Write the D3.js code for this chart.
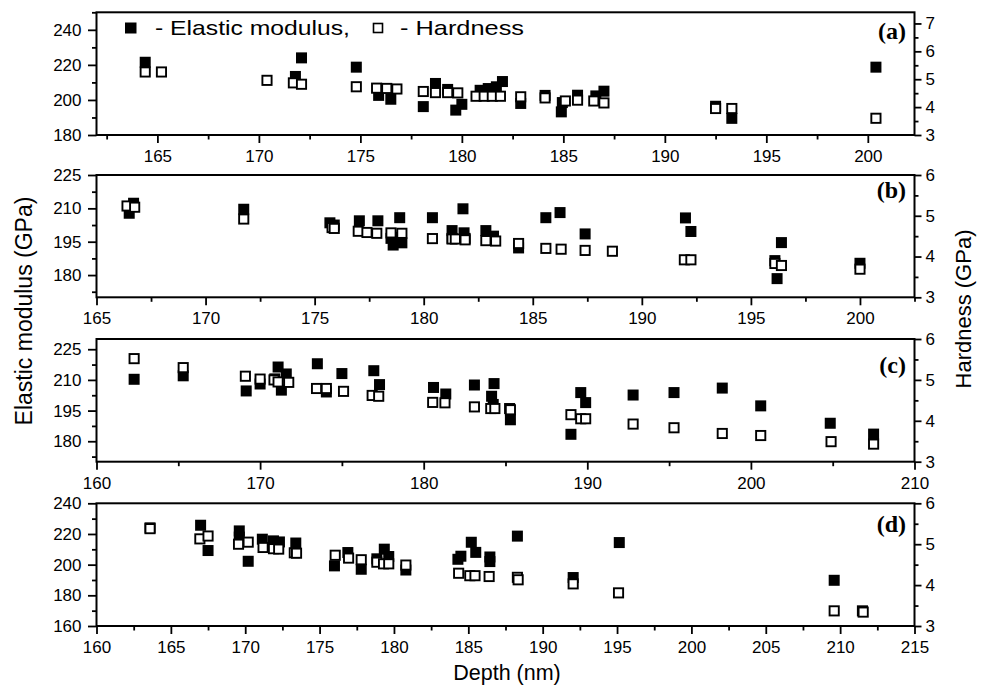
<!DOCTYPE html>
<html><head><meta charset="utf-8">
<script src="https://cdn.jsdelivr.net/npm/d3@7"></script>
<style>body{margin:0;background:#fff} svg{display:block}</style>
</head><body><svg id="c" width="984" height="687"></svg>
<script>
// ---------------- DATA ----------------
// Panel (a)
const aDepthE = [164.4,171.8,172.1,174.8,175.9,176.5,178.1,178.7,179.3,179.7,180.0,180.9,181.3,181.7,182.0,182.9,184.1,184.9,184.95,185.7,186.6,187.0,192.5,193.3,200.4];
const aE      = [221.5,213.4,224.0,218.7,202.6,200.4,196.2,209.4,206.0,194.2,197.5,205.5,206.5,207.5,210.5,198.0,202.6,193.2,198.5,202.7,202.3,205.0,196.4,189.5,218.7];
const aDepthH = [164.4,165.2,170.4,171.7,172.1,174.8,175.8,176.3,176.8,178.1,178.7,179.3,179.8,180.7,181.1,181.5,181.9,182.9,184.1,185.1,185.7,186.5,187.0,192.5,193.3,200.4];
const aH      = [5.26,5.26,4.96,4.87,4.82,4.73,4.68,4.67,4.65,4.56,4.52,4.52,4.51,4.39,4.39,4.39,4.39,4.37,4.33,4.22,4.25,4.22,4.15,3.95,3.95,3.60];
// Panel (b)
const bDepthE = [166.5,166.7,171.75,175.7,175.9,177.05,177.9,178.5,178.6,178.9,178.95,179.0,180.4,181.3,181.3,181.8,181.85,181.9,182.85,183.2,184.35,185.6,186.25,187.4,192.0,192.25,196.1,196.2,196.4,200.0];
const bE      = [207.8,212.3,209.6,203.5,202.5,204.4,204.4,196.5,193.5,205.8,197.0,194.5,205.8,200.0,196.5,209.8,199.0,196.5,200.0,197.5,192.2,205.8,208.1,198.5,205.7,199.6,186.5,178.4,194.6,185.3];
const bDepthH = [166.4,166.75,171.75,175.8,175.9,177.0,177.4,177.85,178.5,179.0,180.4,181.3,181.45,181.9,182.85,183.3,184.35,185.6,186.3,187.4,188.65,191.95,192.25,196.1,196.4,200.0];
const bH      = [5.24,5.21,4.92,4.71,4.69,4.62,4.59,4.57,4.58,4.57,4.44,4.43,4.43,4.41,4.39,4.38,4.32,4.20,4.18,4.15,4.13,3.92,3.92,3.83,3.78,3.69];
// Panel (c)
const cDepthE = [162.3,165.3,169.15,170.0,170.9,171.1,171.6,171.3,173.5,174.05,175.0,176.95,177.3,180.6,181.35,183.1,184.3,184.15,184.25,185.25,185.3,189.0,189.6,189.9,192.8,195.3,198.25,200.6,204.85,207.5];
const cE      = [210.3,212.0,204.6,208.0,210.5,216.3,212.9,205.0,217.9,204.1,213.1,214.5,207.7,206.3,203.1,207.5,208.2,202.0,198.0,196.0,190.5,183.4,203.8,198.9,202.6,203.8,206.0,197.3,188.8,183.5];
const cDepthH = [162.3,165.3,169.1,170.0,170.85,171.1,171.75,173.45,174.05,175.1,176.85,177.25,180.55,181.3,183.1,184.1,184.35,185.3,189.0,189.6,189.9,192.8,195.3,198.25,200.6,204.9,207.5];
const cH      = [5.52,5.30,5.09,5.02,5.00,4.95,4.94,4.79,4.79,4.72,4.62,4.60,4.45,4.44,4.34,4.30,4.30,4.27,4.15,4.05,4.05,3.92,3.83,3.69,3.64,3.49,3.43];
// Panel (d)
const dDepthE = [163.6,167.0,167.5,169.6,169.6,170.2,171.15,171.9,172.3,173.4,176.0,176.9,177.8,178.85,179.35,179.65,180.8,184.3,184.5,185.2,185.5,186.45,186.45,188.3,192.05,195.15,209.6];
const dE      = [224.0,225.7,209.2,222.0,218.0,202.2,216.6,215.5,214.8,214.1,199.2,207.9,197.0,203.8,210.1,205.3,196.5,203.5,205.5,214.6,208.0,205.0,202.0,218.6,191.6,214.4,189.8];
const dDepthH = [163.6,166.95,167.5,169.55,170.2,171.2,171.9,172.25,173.3,173.45,176.05,176.95,177.8,178.85,179.3,179.65,180.8,184.35,185.1,185.45,186.4,188.3,188.35,192.05,195.1,209.6,211.5,211.55];
const dH      = [5.38,5.13,5.20,5.00,5.05,4.92,4.89,4.88,4.79,4.78,4.73,4.66,4.62,4.56,4.52,4.52,4.49,4.29,4.23,4.23,4.21,4.19,4.13,4.03,3.81,3.37,3.37,3.34];

// Tick labels
const aXTicks = [165,170,175,180,185,190,195,200];
const bXTicks = [165,170,175,180,185,190,195,200];
const cXTicks = [160,170,180,190,200,210];
const dXTicks = [160,165,170,175,180,185,190,195,200,205,210,215];
const aETicks = [180,200,220,240];
const bETicks = [180,195,210,225];
const cETicks = [180,195,210,225];
const dETicks = [160,180,200,220,240];
const aHTicks = [3,4,5,6,7];
const bHTicks = [3,4,5,6];
const cHTicks = [3,4,5,6];
const dHTicks = [3,4,5,6];
const panelLabels = ["(a)","(b)","(c)","(d)"];
const legendLabels = ["- Elastic modulus,","- Hardness"];
const titleLeft = "Elastic modulus (GPa)";
const titleRight = "Hardness (GPa)";
const titleBottom = "Depth (nm)";

// ---------------- LAYOUT ----------------
const L = 96.5, R = 914.5;
const panels = [
  {dE:aDepthE,E:aE,dH:aDepthH,H:aH,xt:aXTicks,et:aETicks,ht:aHTicks,top:12.3,bottom:135,
   xd:[162,202.3],ed:[180,250],hd:[3,7.4],xm:2.5,em:10,hm:0.5,lab:panelLabels[0],labY:39},
  {dE:bDepthE,E:bE,dH:bDepthH,H:bH,xt:bXTicks,et:bETicks,ht:bHTicks,top:175,bottom:297.3,
   xd:[165,202.5],ed:[170,225],hd:[3,6],xm:2.5,em:7.5,hm:0.5,lab:panelLabels[1],labY:198},
  {dE:cDepthE,E:cE,dH:cDepthH,H:cH,xt:cXTicks,et:cETicks,ht:cHTicks,top:339,bottom:461.7,
   xd:[160,210],ed:[170,230],hd:[3,6],xm:5,em:7.5,hm:0.5,lab:panelLabels[2],labY:373},
  {dE:dDepthE,E:dE,dH:dDepthH,H:dH,xt:dXTicks,et:dETicks,ht:dHTicks,top:503.3,bottom:626,
   xd:[160,215],ed:[160,240],hd:[3,6],xm:2.5,em:10,hm:0.5,lab:panelLabels[3],labY:532}
];

const svg = d3.select("#c");
const FONT = "'Liberation Sans', Arial, Helvetica, sans-serif";

function minorVals(dom, step, majors){
  const out = [];
  const start = Math.ceil(dom[0]/step - 1e-9)*step;
  for (let v = start; v <= dom[1] + 1e-9; v += step){
    if (!majors.some(m => Math.abs(m - v) < 1e-6)) out.push(+v.toFixed(4));
  }
  return out;
}

function styleAxis(g, fs){
  g.select(".domain").remove();
  g.selectAll(".tick line").attr("stroke","#000").attr("stroke-width",1.8);
  g.selectAll(".tick text").attr("fill","#000").style("font-family",FONT).style("font-size",fs+"px");
}

panels.forEach(p => {
  const x = d3.scaleLinear().domain(p.xd).range([L,R]);
  const yE = d3.scaleLinear().domain(p.ed).range([p.bottom,p.top]);
  const yH = d3.scaleLinear().domain(p.hd).range([p.bottom,p.top]);
  const g = svg.append("g");

  // minor ticks
  g.append("g").attr("transform",`translate(0,${p.bottom})`)
    .call(d3.axisBottom(x).tickValues(minorVals(p.xd,p.xm,p.xt)).tickSize(4.5).tickFormat(""))
    .call(a=>styleAxis(a,17));
  g.append("g").attr("transform",`translate(${L},0)`)
    .call(d3.axisLeft(yE).tickValues(minorVals(p.ed,p.em,p.et)).tickSize(4.5).tickFormat(""))
    .call(a=>styleAxis(a,17));
  g.append("g").attr("transform",`translate(${R},0)`)
    .call(d3.axisRight(yH).tickValues(minorVals(p.hd,p.hm,p.ht)).tickSize(4).tickFormat(""))
    .call(a=>styleAxis(a,17));

  // major ticks
  g.append("g").attr("transform",`translate(0,${p.bottom})`)
    .call(d3.axisBottom(x).tickValues(p.xt).tickSize(8).tickPadding(7).tickFormat(d3.format("d")))
    .call(a=>styleAxis(a,17));
  g.append("g").attr("transform",`translate(${L},0)`)
    .call(d3.axisLeft(yE).tickValues(p.et).tickSize(8.5).tickPadding(6.5).tickFormat(d3.format("d")))
    .call(a=>styleAxis(a,17));
  g.append("g").attr("transform",`translate(${R},0)`)
    .call(d3.axisRight(yH).tickValues(p.ht).tickSize(7).tickPadding(4).tickFormat(d3.format("d")))
    .call(a=>styleAxis(a,17));

  // frame
  g.append("rect").attr("x",L).attr("y",p.top).attr("width",R-L).attr("height",p.bottom-p.top)
    .attr("fill","none").attr("stroke","#000").attr("stroke-width",2);

  // filled squares: Elastic modulus (left axis)
  const S = 11;
  g.append("g").selectAll("rect").data(d3.zip(p.dE,p.E)).join("rect")
    .attr("x",d=>x(d[0])-S/2).attr("y",d=>yE(d[1])-S/2).attr("width",S).attr("height",S)
    .attr("fill","#000");
  // open squares: Hardness (right axis)
  const So = 9.2;
  g.append("g").selectAll("rect").data(d3.zip(p.dH,p.H)).join("rect")
    .attr("x",d=>x(d[0])-So/2).attr("y",d=>yH(d[1])-So/2).attr("width",So).attr("height",So)
    .attr("fill","#fff").attr("stroke","#000").attr("stroke-width",1.9);

  // panel label
  g.append("text").attr("x",906).attr("y",p.labY).attr("text-anchor","end")
    .style("font-family","'Liberation Serif','Times New Roman',serif").style("font-weight","bold")
    .style("font-size","24px").text(p.lab);
});

// legend (panel a)
svg.append("rect").attr("x",125).attr("y",22.5).attr("width",11.5).attr("height",11).attr("fill","#000");
svg.append("text").attr("x",155).attr("y",35).style("font-family",FONT).style("font-size","21px")
  .attr("textLength",195).attr("lengthAdjust","spacingAndGlyphs").text(legendLabels[0]);
svg.append("rect").attr("x",373.5).attr("y",23.5).attr("width",9).attr("height",9)
  .attr("fill","#fff").attr("stroke","#000").attr("stroke-width",1.6);
svg.append("text").attr("x",400).attr("y",35).style("font-family",FONT).style("font-size","21px")
  .attr("textLength",124).attr("lengthAdjust","spacingAndGlyphs").text(legendLabels[1]);

// axis titles
svg.append("text").attr("transform","translate(32,311) rotate(-90)").attr("text-anchor","middle")
  .style("font-family",FONT).style("font-size","23px").text(titleLeft);
svg.append("text").attr("transform","translate(971,309) rotate(-90)").attr("text-anchor","middle")
  .style("font-family",FONT).style("font-size","22px").text(titleRight);
svg.append("text").attr("x",507).attr("y",680).attr("text-anchor","middle")
  .style("font-family",FONT).style("font-size","21.5px").text(titleBottom);
</script></body></html>
